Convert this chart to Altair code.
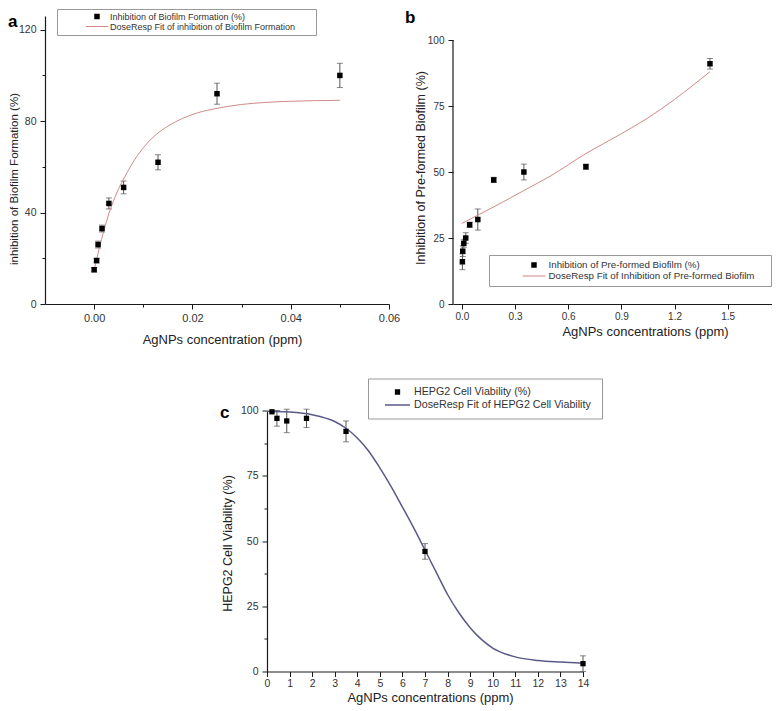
import altair as alt
import pandas as pd

FONT = "Liberation Sans"
INK = "#1a1a1a"

# ---------------- panel a ----------------
a_conc = [0.0, 0.0005, 0.0008, 0.0016, 0.003, 0.006, 0.013, 0.025, 0.05]
a_inhib = [15, 19, 26, 33, 44, 51, 62, 92, 100]
a_err = [1.0, 1.0, 1.5, 1.5, 2.4, 2.8, 3.3, 4.6, 5.3]
a_fit_conc = [0.0, 0.0005, 0.001, 0.0015, 0.002, 0.003, 0.004, 0.005, 0.006, 0.008,
              0.010, 0.012, 0.015, 0.018, 0.021, 0.025, 0.030, 0.035, 0.040, 0.050]
a_fit_val = [15, 19.5, 24, 28.3, 32.3, 39.5, 45.5, 50.5, 54.7, 62.3,
             68.3, 73, 77.8, 81.2, 83.6, 85.6, 87.3, 88.2, 88.7, 89.1]
a_names = ["Inhibition of Biofilm Formation (%)",
           "DoseResp Fit of inhibition of Biofilm Formation"]
a_xticks = [0, 0.01, 0.02, 0.03, 0.04, 0.05, 0.06]
a_yticks = [0, 20, 40, 60, 80, 100, 120]

# ---------------- panel b ----------------
b_conc = [0.003, 0.005, 0.011, 0.022, 0.044, 0.09, 0.18, 0.35, 0.70, 1.40]
b_inhib = [16, 20, 23, 25, 30, 32, 47, 50, 52, 91]
b_err = [3, 2, 1.5, 2, 1, 4, 1, 3, 1, 2]
b_fit_conc = [0.0, 0.1, 0.2, 0.35, 0.5, 0.7, 0.9, 1.05, 1.2, 1.4]
b_fit_val = [30.5, 34, 37.5, 43, 48.5, 57, 64.5, 70.5, 77.5, 88]
b_names = ["Inhibition of Pre-formed Biofilm (%)",
           "DoseResp Fit of Inhibition of Pre-formed Biofilm"]
b_xticks = [0, 0.15, 0.3, 0.45, 0.6, 0.75, 0.9, 1.05, 1.2, 1.35, 1.5, 1.65]
b_yticks = [0, 12.5, 25, 37.5, 50, 62.5, 75, 87.5, 100]

# ---------------- panel c ----------------
c_conc = [0.22, 0.44, 0.875, 1.75, 3.5, 7.0, 14.0]
c_viab = [99.5, 97, 96, 97, 92, 46, 3]
c_err = [0, 3, 4.5, 3.5, 4, 3, 3]
c_fit_conc = [0, 1, 2, 3, 3.5, 4, 4.5, 5, 5.5, 6, 6.5, 7, 7.5, 8, 8.5, 9, 9.5,
              10, 11, 12, 13, 14]
c_fit_val = [99.7, 99.4, 98.4, 95.8, 93.2, 89.5, 84.5, 78, 70.8, 63, 55, 46.5, 38,
             29.5, 22.5, 16.8, 12.3, 9.0, 5.6, 4.2, 3.6, 3.2]
c_names = ["HEPG2 Cell Viability (%)", "DoseResp Fit of HEPG2 Cell Viability"]
c_xticks = [i * 0.5 for i in range(29)]
c_yticks = [0, 12.5, 25, 37.5, 50, 62.5, 75, 87.5, 100]


def axis(values, fmt, major, title, tx, ty, tsize, lsize, lpad, domain=True):
    return alt.Axis(
        values=values, format=fmt,
        labelExpr=f"({major}) ? datum.label : ''",
        tickSize={"condition": {"test": major, "value": 5}, "value": 3},
        tickColor=INK, tickWidth=1, domain=domain, domainColor=INK, domainWidth=1.2,
        grid=False, labelFlush=False, labelOverlap=False, labelBound=False,
        labelFont=FONT, labelFontSize=lsize, labelColor="#333", labelPadding=lpad,
        title=title, titleX=tx, titleY=ty, titleAlign="center", titleBaseline="middle",
        titleFont=FONT, titleFontSize=tsize, titleFontWeight="normal", titleColor="#222",
    )


def panel(conc, val, err, fit_conc, fit_val, names, line_color, line_w,
          xdom, ydom, xaxis, yaxis, width, height, leg, sq_size, line_len,
          thick, letter, extra=None):
    pts = pd.DataFrame({"conc": conc, "val": val, "err": err, "series": names[0]})
    fit = pd.DataFrame({"conc": fit_conc, "val": fit_val})
    x = alt.X("conc:Q", scale=alt.Scale(domain=xdom, nice=False, zero=False), axis=xaxis)
    y = alt.Y("val:Q", scale=alt.Scale(domain=ydom, nice=False, zero=False), axis=yaxis)
    h = thick / line_len
    shape_path = f"M-1,-{h:.4f}L1,-{h:.4f}L1,{h:.4f}L-1,{h:.4f}Z"
    bars = alt.Chart(pts).mark_errorbar(
        ticks={"size": 6, "color": "#555"}, rule={"color": "#555"}, thickness=1
    ).encode(x=x, y=y, yError="err:Q")
    line = alt.Chart(fit).mark_line(
        color=line_color, strokeWidth=line_w, interpolate="monotone"
    ).encode(x=x, y=y)
    dots = alt.Chart(pts).mark_point(filled=True, opacity=1).encode(
        x=x, y=y,
        color=alt.Color("series:N", scale=alt.Scale(domain=names, range=["black", line_color]), legend=leg),
        shape=alt.Shape("series:N", scale=alt.Scale(domain=names, range=["square", shape_path]), legend=leg),
        size=alt.Size("series:N", scale=alt.Scale(domain=names, range=[sq_size, line_len ** 2]), legend=leg),
    )
    layers = [bars, line, dots]
    if extra is not None:
        layers.insert(0, extra())
    return alt.layer(*layers).properties(width=width, height=height, title=letter)


def legend(lx, ly, pad, soff, loff, clip, rowpad, fsize, trail):
    return alt.Legend(
        orient="none", legendX=lx, legendY=ly, title=None, padding=pad,
        symbolOffset=soff, labelOffset=loff, clipHeight=clip, rowPadding=rowpad,
        labelFont=FONT, labelFontSize=fsize, labelColor="#333", labelLimit=500,
        labelExpr="datum.label + '" + "\u00a0" * trail + "\u200b'",
        strokeColor="#999", fillColor="white", symbolOpacity=1,
    )


def letter(t, dx, dy):
    return alt.TitleParams(text=t, anchor="start", frame="group", orient="top",
                           fontSize=17, fontWeight="bold", font=FONT, color="black",
                           dx=dx, dy=dy, offset=0)


# panel a
a_chart = panel(
    a_conc, a_inhib, a_err, a_fit_conc, a_fit_val, a_names, "#d08a8a", 1,
    [-0.01, 0.06], [0, 126],
    axis(a_xticks, ".2f", "round(datum.value*100) % 2 == 0",
         "AgNPs concentration (ppm)", 177, 35, 13, 11, 3),
    axis(a_yticks, "d", "datum.value % 40 == 0",
         "inhibition of Biofilm Formation (%)", -31, 162.5, 11.5, 10.5, 4),
    344, 288,
    legend(12, -7, 3, 25, 1, 9, 0, 9, 7), 30, 22, 1.0,
    letter("a", -37, 22),
)


def b_axis_line():
    return alt.Chart(pd.DataFrame({"k": [0]})).mark_rule(color=INK, strokeWidth=1.2).encode(
        x=alt.datum(-0.05, scale=alt.Scale(domain=[-0.05, 1.75], nice=False, zero=False)),
        y=alt.datum(0), y2=alt.datum(100))


b_chart = panel(
    b_conc, b_inhib, b_err, b_fit_conc, b_fit_val, b_names, "#d08a8a", 1,
    [-0.05, 1.75], [0, 109.1],
    axis(b_xticks, ".1f", "round(datum.value/0.15) % 2 == 0",
         "AgNPs concentrations (ppm)", 192, 27, 13, 10, 2),
    axis(b_yticks, "d", "datum.value % 25 == 0",
         "Inhibition of Pre-formed Biofilm (%)", -33, 151.5, 12.5, 10, 4, domain=False),
    319, 288,
    legend(36, 239, 5, 27.5, 2, 10, 1, 9.75, 4), 30, 23, 1.0,
    letter("b", -48, 11),
    extra=b_axis_line,
)

c_chart = panel(
    c_conc, c_viab, c_err, c_fit_conc, c_fit_val, c_names, "#5a5a88", 1.5,
    [0, 14], [0, 100],
    axis(c_xticks, "d", "datum.value % 1 == 0",
         "AgNPs concentrations (ppm)", 163, 26, 13, 10.5, 2),
    axis(c_yticks, "d", "datum.value % 25 == 0",
         "HEPG2 Cell Viability (%)", -40, 132.5, 12.5, 10.5, 4),
    316, 261,
    legend(101, -32, 8, 8, 3, 11, 1, 10.7, 1), 28, 25, 1.5,
    letter("c", -47, 43.5),
)

spacer = alt.Chart(pd.DataFrame({"v": [0]})).mark_point(opacity=0).encode(
    x=alt.X("v:Q", axis=None), y=alt.Y("v:Q", axis=None)
).properties(width=222, height=1)

indep = dict(color="independent", shape="independent", size="independent")

row1 = alt.hconcat(a_chart, b_chart, spacing=64, bounds="flush").resolve_scale(**indep)
row2 = alt.hconcat(spacer, c_chart, spacing=0, bounds="flush").resolve_scale(**indep)

chart = alt.vconcat(row1, row2, spacing=31.5).resolve_scale(**indep).properties(
    padding=0
).configure_view(stroke=None)

chart.save("out.html", embed_options={"renderer": "svg", "actions": False})
